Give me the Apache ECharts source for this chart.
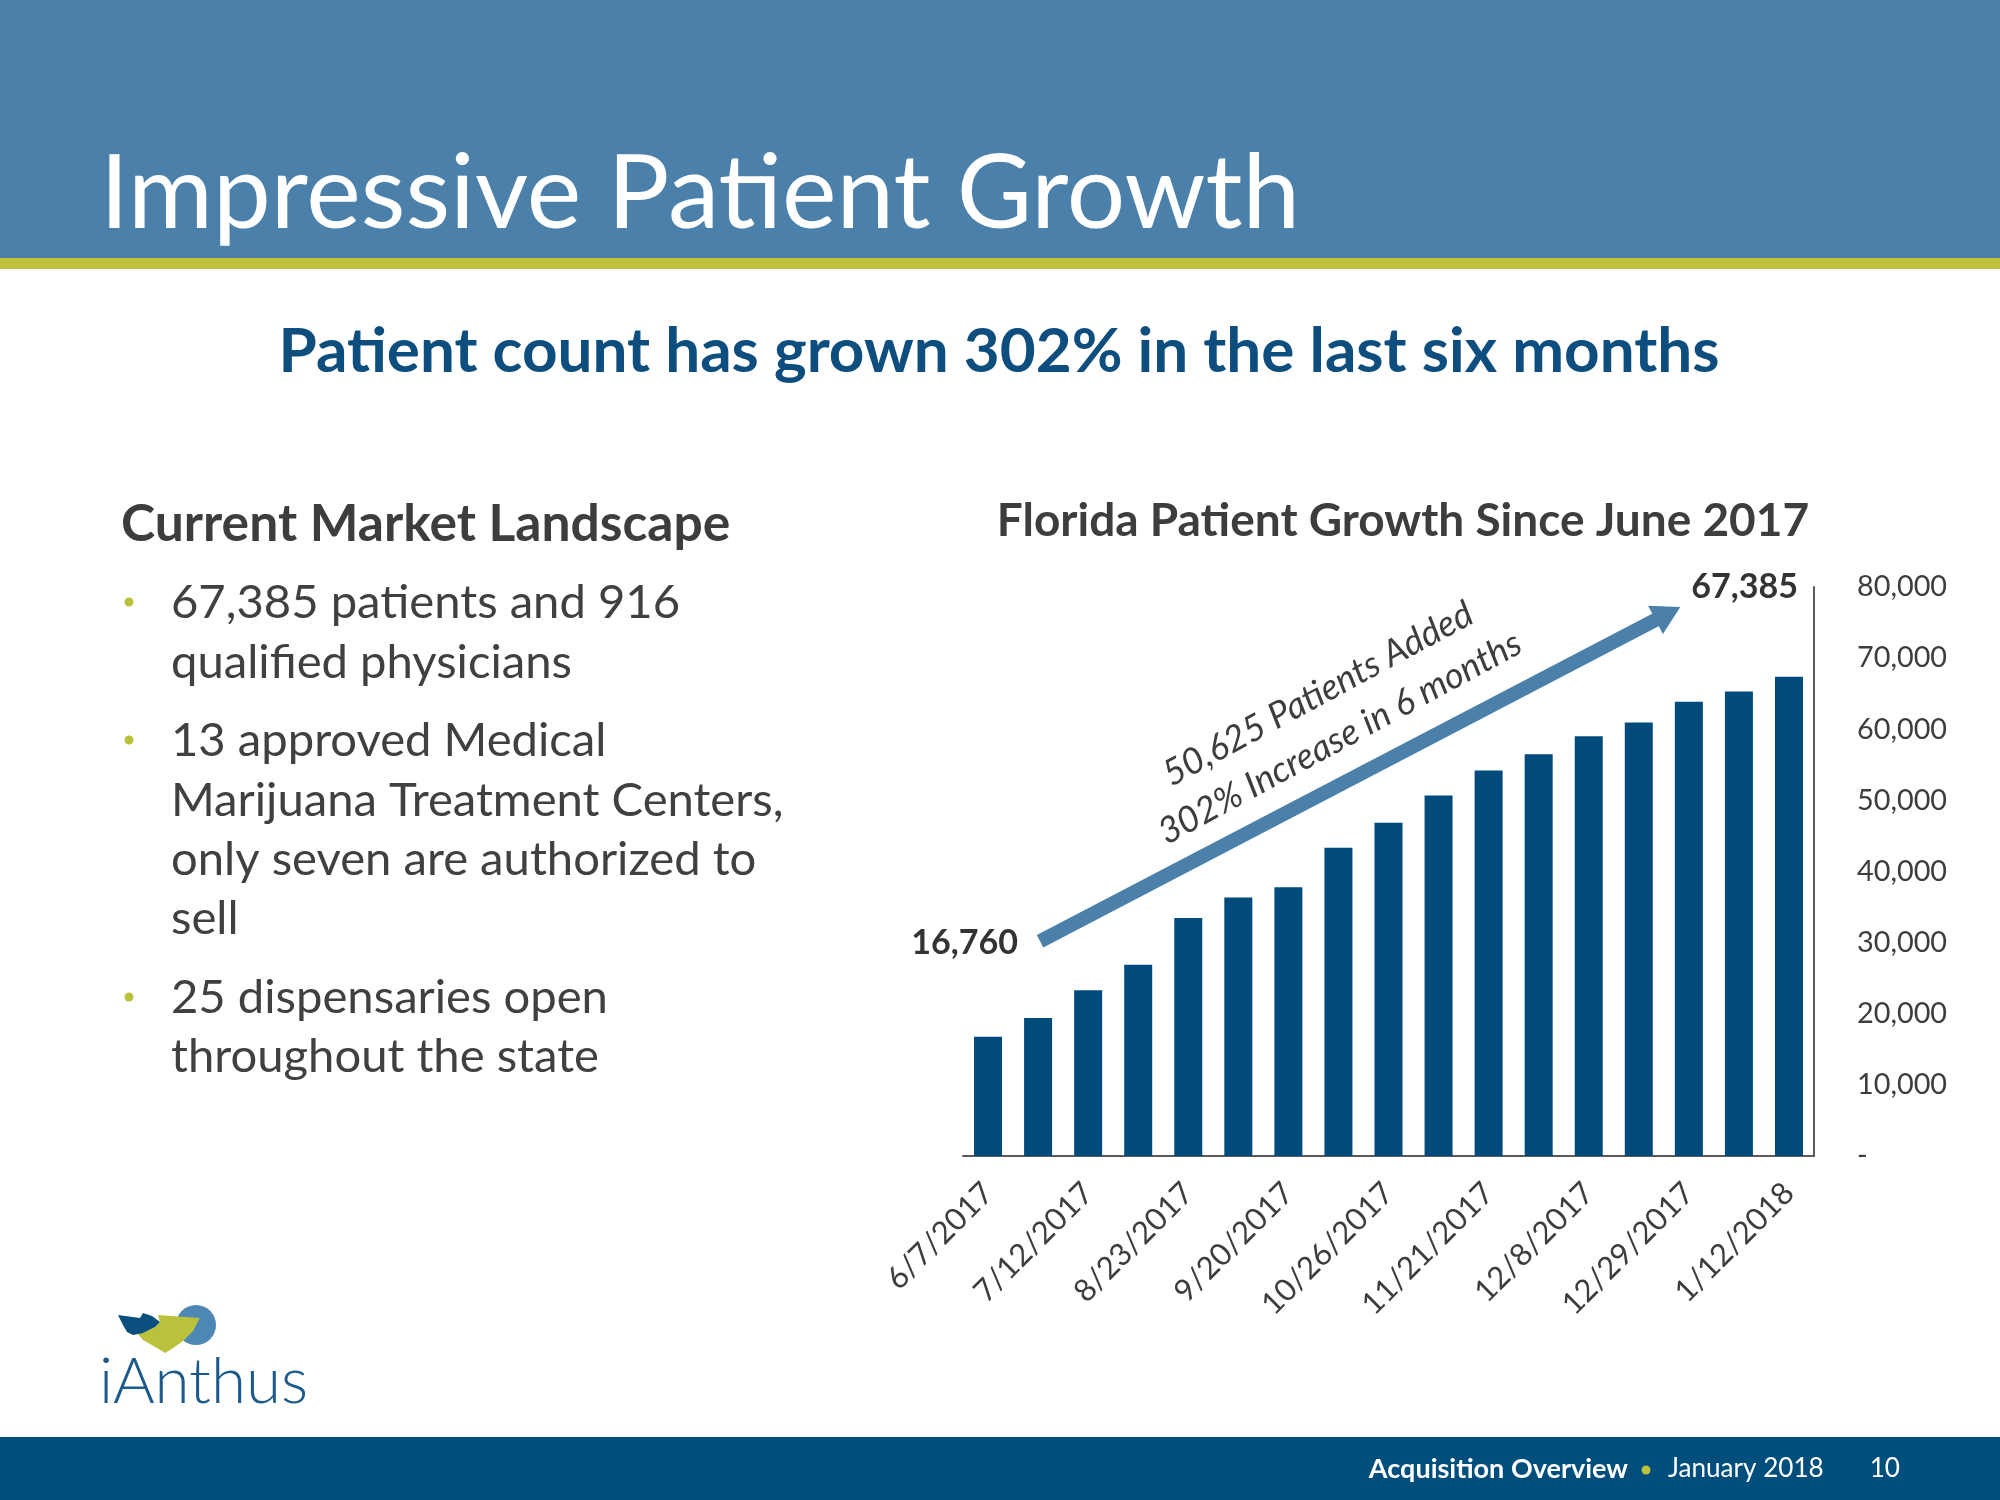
<!DOCTYPE html>
<html><head><meta charset="utf-8">
<script src="https://cdn.jsdelivr.net/npm/echarts@6/dist/echarts.min.js"></script>
<style>html,body{margin:0;padding:0;background:#fff}#c{width:2000px;height:1500px}</style>
</head><body><div id="c"></div>
<script>
// ---- data (every other date label is hidden in the source, those are estimates) ----
const categories = ['6/7/2017','6/28/2017','7/12/2017','8/2/2017','8/23/2017','9/6/2017','9/20/2017','10/5/2017',
  '10/26/2017','11/8/2017','11/21/2017','11/30/2017','12/8/2017','12/18/2017','12/29/2017','1/5/2018','1/12/2018'];
const patients = [16760, 19400, 23300, 26900, 33450, 36350, 37800, 43350, 46850, 50700, 54200, 56500, 59000, 60950, 63850, 65300, 67385];
const yTickLabels = ['-', '10,000', '20,000', '30,000', '40,000', '50,000', '60,000', '70,000', '80,000'];
const yMin = 0, yMax = 80000, yStep = 10000;
const startLabel = '16,760', endLabel = '67,385';
const annotLines = ['50,625 Patients Added', '302% Increase in 6 months'];
const bullets = [
  ['67,385 patients and 916', 'qualified physicians'],
  ['13 approved Medical', 'Marijuana Treatment Centers,', 'only seven are authorized to', 'sell'],
  ['25 dispensaries open', 'throughout the state']
];

const FAM = 'Lato, "Open Sans", sans-serif';
const mctx = document.createElement('canvas').getContext('2d');
function fit(text, weight, target, style) {
  mctx.font = (style || 'normal') + ' ' + weight + ' 100px ' + FAM;
  return +(100 * target / mctx.measureText(text).width).toFixed(1);
}
function font(size, weight, style) { return (style || 'normal') + ' ' + weight + ' ' + size + 'px ' + FAM; }

const HEAD = '#4a80aa', GREEN = '#bec23c', NAVY = '#004b7c', TXT = '#3d3d3d';
const chart = echarts.init(document.getElementById('c'), null, {renderer: 'canvas'});

const yLabelSize = fit('80,000', 400, 90);
const xLabelSize = fit('6/7/2017', 400, 136);

chart.setOption({
  animation: false,
  backgroundColor: '#fff',
  grid: {left: 963, right: 186, top: 587, bottom: 344, containLabel: false},
  xAxis: {
    type: 'category', data: categories,
    axisLine: {show: true, lineStyle: {color: '#5a5a5a', width: 2}},
    axisTick: {show: false},
    axisLabel: {interval: 1, rotate: 45, margin: 32, color: TXT, fontFamily: FAM, fontSize: xLabelSize}
  },
  yAxis: {
    type: 'value', position: 'right', min: yMin, max: yMax, interval: yStep,
    axisLine: {show: true, lineStyle: {color: '#5a5a5a', width: 2}},
    axisTick: {show: false}, splitLine: {show: false},
    axisLabel: {margin: 43, align: 'left', color: TXT, fontFamily: FAM, fontSize: yLabelSize,
      formatter: v => yTickLabels[Math.round((v - yMin) / yStep)]}
  },
  series: [{type: 'bar', data: patients, barWidth: 28, itemStyle: {color: NAVY}}]
});

// ---- annotation geometry from the data scale ----
function px(catPos, value) {
  const i = Math.floor(catPos), f = catPos - i;
  const a = chart.convertToPixel({gridIndex: 0}, [i, value]);
  if (f === 0) return a;
  const b = chart.convertToPixel({gridIndex: 0}, [i + 1, value]);
  return [a[0] + f * (b[0] - a[0]), a[1]];
}
const p0 = px(1.04, 30200), p1 = px(13.83, 77200);
const ang = Math.atan2(p1[1] - p0[1], p1[0] - p0[0]);
const ux = Math.cos(ang), uy = Math.sin(ang);
const headL = 28, headW = 16;
const baseX = p1[0] - ux * headL, baseY = p1[1] - uy * headL;

const titleSize = fit('Impressive Patient Growth', 400, 1200);
const subSize = fit('Patient count has grown 302% in the last six months', 700, 1441);
const chartTitleSize = fit('Florida Patient Growth Since June 2017', 700, 812);
const leftHeadSize = fit('Current Market Landscape', 700, 610);
const bulletSize = fit('Marijuana Treatment Centers,', 400, 613);
const numSize = fit(startLabel, 700, 107);
const annSize = (fit(annotLines[0], 400, 348, 'italic') + fit(annotLines[1], 400, 406, 'italic')) / 2;
const footBoldSize = fit('Acquisition Overview', 700, 259);
const footSize = fit('January 2018', 400, 156);
const logoSize = fit('iAnthus', 300, 209);

const g = [
  {type: 'rect', z: -10, shape: {x: 0, y: 0, width: 2000, height: 258}, style: {fill: HEAD}},
  {type: 'rect', z: -10, shape: {x: 0, y: 258, width: 2000, height: 11}, style: {fill: GREEN}},
  {type: 'rect', z: -10, shape: {x: 0, y: 1437, width: 2000, height: 63}, style: {fill: '#004e7c'}},
  {type: 'text', x: 100, y: 246, style: {text: 'Impressive Patient Growth', font: font(titleSize, 400), fill: '#fff', textAlign: 'left', textVerticalAlign: 'bottom'}},
  {type: 'text', x: 999, y: 352, style: {text: 'Patient count has grown 302% in the last six months', font: font(subSize, 700), fill: '#0d4e7e', textAlign: 'center', textVerticalAlign: 'middle'}},
  {type: 'text', x: 1403, y: 521, style: {text: 'Florida Patient Growth Since June 2017', font: font(chartTitleSize, 700), fill: TXT, textAlign: 'center', textVerticalAlign: 'middle'}},
  {type: 'text', x: 121, y: 524, style: {text: 'Current Market Landscape', font: font(leftHeadSize, 700), fill: TXT, textAlign: 'left', textVerticalAlign: 'middle'}},
  {type: 'text', x: 1018, y: 943, style: {text: startLabel, font: font(numSize, 700), fill: '#333', textAlign: 'right', textVerticalAlign: 'middle'}},
  {type: 'text', x: 1798, y: 587, style: {text: endLabel, font: font(numSize, 700), fill: '#333', textAlign: 'right', textVerticalAlign: 'middle'}},
  {type: 'line', shape: {x1: p0[0], y1: p0[1], x2: baseX + ux * 2, y2: baseY + uy * 2}, style: {stroke: HEAD, lineWidth: 14, lineCap: 'butt'}},
  {type: 'polygon', shape: {points: [[p1[0], p1[1]], [baseX - uy * headW, baseY + ux * headW], [baseX + uy * headW, baseY - ux * headW]]}, style: {fill: HEAD}},
  {type: 'text', x: 1318, y: 694, rotation: 28.5 * Math.PI / 180, style: {text: annotLines[0], font: font(annSize, 400, 'italic'), fill: TXT, textAlign: 'center', textVerticalAlign: 'middle'}},
  {type: 'text', x: 1340, y: 738, rotation: 28.5 * Math.PI / 180, style: {text: annotLines[1], font: font(annSize, 400, 'italic'), fill: TXT, textAlign: 'center', textVerticalAlign: 'middle'}},
  {type: 'text', x: 1628, y: 1469, style: {text: 'Acquisition Overview', font: font(footBoldSize, 700), fill: '#fff', textAlign: 'right', textVerticalAlign: 'middle'}},
  {type: 'circle', shape: {cx: 1646, cy: 1470, r: 4.5}, style: {fill: GREEN}},
  {type: 'text', x: 1668, y: 1469, style: {text: 'January 2018', font: font(footSize, 400), fill: '#fff', textAlign: 'left', textVerticalAlign: 'middle'}},
  {type: 'text', x: 1900, y: 1469, style: {text: '10', font: font(footSize, 400), fill: '#fff', textAlign: 'right', textVerticalAlign: 'middle'}},
  // logo
  {type: 'circle', shape: {cx: 196, cy: 1325, r: 20}, style: {fill: '#4d87b4'}},
  {type: 'polygon', shape: {points: [[158,1315],[200,1318],[193,1331],[183,1341],[170,1350],[165,1353],[157,1348],[143,1340],[137,1333],[143,1333],[155,1327],[160,1322]]}, style: {fill: '#b9c23a'}},
  {type: 'polygon', shape: {points: [[118,1315],[140,1318],[143,1313],[152,1316],[160,1322],[155,1327],[143,1333],[133,1335],[127,1332],[123,1325]]}, style: {fill: '#0b4f7e'}},
  {type: 'text', x: 99, y: 1414, style: {text: 'iAnthus', font: font(logoSize, 300), fill: '#1b5a8b', textAlign: 'left', textVerticalAlign: 'bottom'}}
];

// bullets
const lineStarts = [[603, 663], [741, 801, 860, 919], [998, 1057]];
bullets.forEach((b, bi) => {
  g.push({type: 'circle', shape: {cx: 129, cy: lineStarts[bi][0] - 1, r: 4.5}, style: {fill: '#b9c23a'}});
  b.forEach((line, li) => {
    g.push({type: 'text', x: 171, y: lineStarts[bi][li], style: {text: line, font: font(bulletSize, 400), fill: '#404040', textAlign: 'left', textVerticalAlign: 'middle'}});
  });
});

chart.setOption({graphic: g});
</script></body></html>
